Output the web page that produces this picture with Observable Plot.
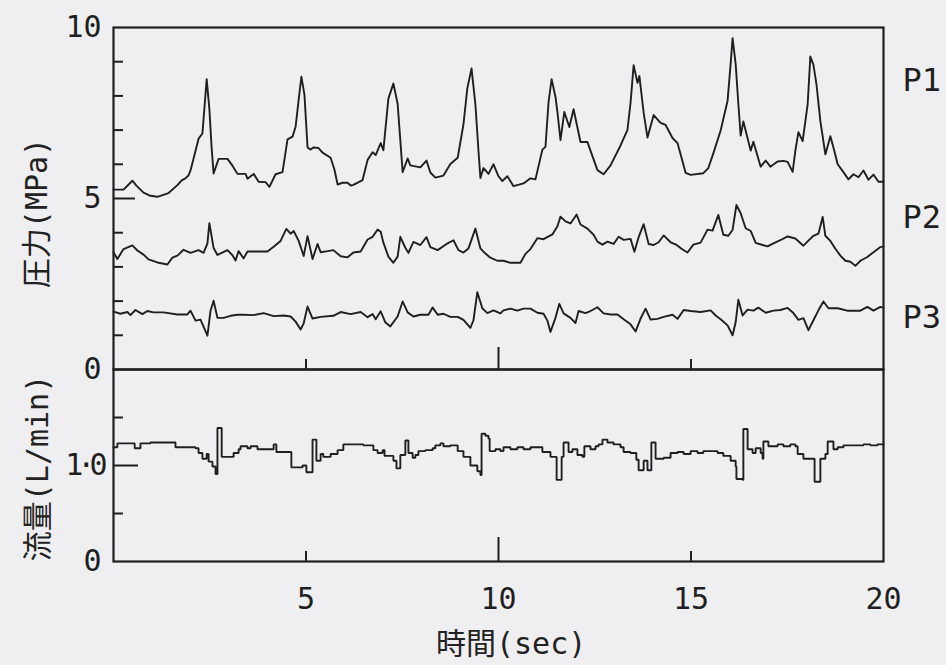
<!DOCTYPE html>
<html><head><meta charset="utf-8">
<script src="https://cdn.jsdelivr.net/npm/d3@7"></script>
<script src="https://cdn.jsdelivr.net/npm/@observablehq/plot@0.6"></script>
<style>
html,body{margin:0;padding:0;background:#efeff1;}
#chart{position:relative;width:946px;height:665px;overflow:hidden;color:#222;
  font-family:"DejaVu Sans Mono","Noto Sans CJK JP",monospace;}
#chart svg{position:absolute;left:0;overflow:visible;}
.ttl{position:absolute;font-size:30px;white-space:nowrap;line-height:1;transform-origin:center center;}
</style></head><body><div id="chart"></div>
<script>
// ---- data (time in sec, pressure in MPa, flow in L/min) ----
const p1Points = [[0,5.26],[0.26,5.26],[0.49,5.52],[0.60,5.37],[0.78,5.17],[0.96,5.08],[1.14,5.05],[1.43,5.16],[1.66,5.39],[1.77,5.53],[1.87,5.59],[1.95,5.68],[2.00,5.82],[2.08,6.17],[2.21,6.75],[2.31,6.90],[2.36,7.62],[2.42,8.49],[2.49,7.62],[2.55,6.46],[2.60,5.73],[2.73,6.16],[2.96,6.16],[3.09,5.96],[3.22,5.72],[3.43,5.72],[3.48,5.58],[3.64,5.72],[3.77,5.49],[3.95,5.48],[4.05,5.34],[4.21,5.71],[4.39,5.77],[4.52,6.73],[4.65,6.81],[4.73,7.10],[4.81,7.89],[4.88,8.56],[4.96,8.03],[5.04,6.49],[5.12,6.43],[5.19,6.49],[5.32,6.48],[5.43,6.34],[5.64,6.19],[5.74,5.84],[5.82,5.41],[5.95,5.46],[6.08,5.46],[6.16,5.38],[6.23,5.40],[6.47,5.54],[6.60,6.13],[6.73,6.35],[6.81,6.27],[6.94,6.62],[7.01,6.41],[7.14,7.92],[7.27,8.36],[7.38,7.77],[7.45,6.70],[7.51,5.77],[7.64,6.17],[7.71,5.97],[7.97,5.91],[8.13,6.11],[8.23,5.76],[8.36,5.61],[8.57,5.67],[8.75,6.01],[8.94,6.19],[9.09,7.17],[9.19,8.22],[9.30,8.80],[9.40,7.75],[9.48,6.39],[9.53,5.60],[9.61,5.89],[9.74,5.72],[9.87,6.00],[10.00,5.65],[10.10,5.51],[10.23,5.65],[10.39,5.36],[10.65,5.44],[10.83,5.59],[10.96,5.56],[11.14,6.43],[11.22,6.51],[11.30,7.82],[11.38,8.49],[11.48,7.97],[11.53,7.53],[11.61,6.71],[11.71,7.53],[11.84,7.09],[11.95,7.61],[12.13,6.65],[12.31,6.65],[12.57,5.83],[12.73,5.71],[12.91,5.97],[13.17,6.55],[13.35,7.01],[13.43,7.80],[13.51,8.90],[13.61,8.38],[13.66,8.58],[13.77,7.51],[13.87,6.78],[14.03,7.44],[14.21,7.21],[14.34,7.15],[14.52,6.77],[14.65,6.62],[14.86,5.75],[14.99,5.69],[15.32,5.74],[15.45,5.89],[15.58,6.32],[15.77,6.99],[15.95,7.86],[16.03,8.94],[16.08,9.69],[16.16,8.93],[16.23,7.77],[16.29,6.84],[16.36,7.25],[16.55,6.40],[16.62,6.66],[16.81,5.93],[16.94,6.11],[17.06,5.93],[17.25,6.08],[17.40,6.10],[17.51,6.07],[17.64,5.78],[17.71,6.39],[17.79,6.94],[17.90,6.68],[18.03,7.75],[18.10,9.15],[18.18,8.91],[18.26,8.33],[18.36,7.26],[18.49,6.29],[18.62,6.82],[18.70,6.49],[18.81,6.00],[18.94,5.80],[19.09,5.56],[19.22,5.71],[19.35,5.62],[19.48,5.82],[19.61,5.55],[19.74,5.70],[19.87,5.49],[20.00,5.49]];

const p2Points = [[0,3.43],[0.10,3.23],[0.26,3.52],[0.49,3.63],[0.62,3.48],[0.78,3.36],[0.91,3.22],[1.14,3.13],[1.40,3.07],[1.53,3.27],[1.66,3.33],[1.82,3.50],[2.00,3.41],[2.21,3.49],[2.34,3.41],[2.44,3.69],[2.49,4.28],[2.60,3.55],[2.70,3.35],[2.96,3.49],[3.09,3.34],[3.17,3.19],[3.25,3.46],[3.38,3.25],[3.48,3.45],[3.74,3.45],[4.00,3.45],[4.16,3.59],[4.34,3.76],[4.49,4.11],[4.60,3.97],[4.68,4.05],[4.81,3.76],[4.94,3.32],[5.04,3.90],[5.17,3.23],[5.30,3.67],[5.38,3.43],[5.56,3.46],[5.71,3.49],[5.90,3.31],[6.08,3.28],[6.23,3.42],[6.42,3.45],[6.60,3.80],[6.73,3.88],[6.86,4.09],[6.94,4.03],[7.01,3.71],[7.14,3.30],[7.27,3.12],[7.38,3.30],[7.45,3.88],[7.58,3.56],[7.66,3.41],[7.79,3.73],[7.97,3.64],[8.13,3.87],[8.23,3.58],[8.42,3.49],[8.68,3.69],[8.83,3.78],[8.96,3.49],[9.09,3.42],[9.22,3.54],[9.40,4.12],[9.53,3.54],[9.66,3.39],[9.79,3.27],[9.97,3.18],[10.13,3.18],[10.31,3.12],[10.57,3.12],[10.70,3.38],[10.83,3.52],[11.01,3.84],[11.17,3.81],[11.40,3.95],[11.53,4.19],[11.61,4.47],[11.74,4.33],[11.87,4.27],[12.03,4.53],[12.13,4.24],[12.31,4.12],[12.47,3.94],[12.57,3.74],[12.70,3.65],[12.83,3.74],[12.99,3.67],[13.12,3.88],[13.25,3.79],[13.43,3.82],[13.53,3.44],[13.64,3.87],[13.77,4.25],[13.90,3.67],[14.03,3.64],[14.16,3.72],[14.29,3.92],[14.47,3.72],[14.60,3.66],[14.78,3.51],[14.91,3.42],[15.06,3.65],[15.25,3.71],[15.43,4.09],[15.56,4.06],[15.71,4.52],[15.84,3.94],[15.97,3.91],[16.08,4.08],[16.18,4.81],[16.29,4.57],[16.42,4.13],[16.55,4.05],[16.68,3.70],[16.86,3.64],[16.99,3.60],[17.14,3.69],[17.32,3.78],[17.51,3.89],[17.71,3.83],[17.92,3.62],[18.05,3.77],[18.18,3.91],[18.31,3.97],[18.42,4.46],[18.49,3.91],[18.62,3.76],[18.75,3.53],[18.88,3.33],[19.01,3.18],[19.14,3.15],[19.27,3.03],[19.40,3.18],[19.58,3.29],[19.74,3.43],[19.92,3.58],[20.00,3.60]];

const p3Points = [[0,1.69],[0.18,1.63],[0.36,1.68],[0.44,1.59],[0.57,1.74],[0.75,1.62],[0.88,1.71],[1.04,1.67],[1.30,1.67],[1.66,1.61],[1.92,1.61],[2.00,1.72],[2.13,1.43],[2.26,1.46],[2.44,0.99],[2.52,1.72],[2.60,2.01],[2.70,1.51],[2.86,1.51],[3.04,1.57],[3.22,1.60],[3.38,1.60],[3.64,1.59],[3.90,1.65],[4.16,1.56],[4.42,1.58],[4.60,1.55],[4.73,1.40],[4.86,1.17],[4.94,1.35],[5.04,1.84],[5.17,1.49],[5.38,1.54],[5.71,1.57],[5.90,1.68],[6.16,1.62],[6.42,1.68],[6.60,1.53],[6.73,1.62],[6.81,1.47],[6.94,1.70],[7.06,1.38],[7.19,1.26],[7.38,1.55],[7.51,1.99],[7.64,1.67],[7.79,1.55],[7.97,1.60],[8.18,1.60],[8.29,1.81],[8.42,1.60],[8.57,1.63],[8.75,1.54],[8.94,1.54],[9.09,1.45],[9.27,1.22],[9.35,1.44],[9.45,2.26],[9.58,1.79],[9.71,1.65],[9.87,1.73],[10.05,1.64],[10.13,1.73],[10.31,1.78],[10.49,1.72],[10.65,1.78],[10.83,1.78],[11.01,1.66],[11.17,1.63],[11.27,1.43],[11.35,1.10],[11.48,1.51],[11.58,1.92],[11.69,1.64],[11.87,1.51],[12.00,1.36],[12.08,1.71],[12.26,1.65],[12.39,1.71],[12.57,1.82],[12.73,1.64],[12.91,1.61],[13.09,1.61],[13.25,1.47],[13.43,1.32],[13.56,1.11],[13.69,1.49],[13.82,1.78],[13.95,1.46],[14.13,1.48],[14.29,1.54],[14.52,1.60],[14.65,1.48],[14.81,1.74],[14.99,1.71],[15.25,1.68],[15.51,1.73],[15.64,1.58],[15.77,1.47],[15.95,1.29],[16.08,1.00],[16.16,1.38],[16.23,2.04],[16.34,1.58],[16.47,1.75],[16.62,1.72],[16.75,1.81],[16.94,1.66],[17.14,1.72],[17.32,1.74],[17.51,1.80],[17.66,1.65],[17.79,1.45],[17.92,1.50],[18.05,1.15],[18.18,1.44],[18.31,1.73],[18.44,1.99],[18.57,1.79],[18.81,1.79],[19.06,1.72],[19.22,1.72],[19.40,1.72],[19.58,1.83],[19.74,1.72],[19.92,1.83],[20.00,1.80]];

const flowPoints = [[0,1.19],[0.10,1.23],[0.52,1.23],[0.55,1.18],[0.68,1.18],[0.70,1.23],[0.96,1.24],[1.53,1.24],[1.61,1.19],[2.13,1.18],[2.21,1.13],[2.31,1.07],[2.39,1.07],[2.42,1.12],[2.47,1.04],[2.57,0.99],[2.65,0.91],[2.68,0.91],[2.70,1.39],[2.78,1.39],[2.81,1.09],[2.96,1.09],[3.12,1.13],[3.25,1.17],[3.30,1.20],[3.48,1.18],[3.56,1.20],[3.74,1.17],[3.90,1.17],[4.08,1.17],[4.16,1.22],[4.23,1.14],[4.60,1.14],[4.62,0.98],[4.78,0.98],[4.91,1.00],[5.01,0.93],[5.14,0.93],[5.17,1.27],[5.25,1.27],[5.27,1.05],[5.38,1.12],[5.45,1.09],[5.64,1.12],[5.82,1.16],[5.97,1.22],[6.23,1.22],[6.49,1.21],[6.75,1.16],[6.86,1.13],[6.99,1.16],[7.04,1.10],[7.19,1.10],[7.27,1.05],[7.35,0.97],[7.43,0.97],[7.45,1.11],[7.56,1.11],[7.58,1.26],[7.64,1.26],[7.66,1.13],[7.77,1.08],[7.84,1.11],[7.92,1.15],[8.10,1.16],[8.29,1.18],[8.36,1.21],[8.49,1.23],[8.57,1.20],[8.75,1.21],[8.94,1.15],[9.09,1.09],[9.27,1.00],[9.45,0.94],[9.53,0.90],[9.56,1.33],[9.66,1.31],[9.74,1.28],[9.77,1.15],[9.92,1.17],[10.05,1.15],[10.13,1.19],[10.31,1.17],[10.49,1.19],[10.65,1.17],[10.83,1.19],[11.09,1.19],[11.14,1.14],[11.30,1.14],[11.35,1.09],[11.48,1.09],[11.51,0.85],[11.61,0.85],[11.64,1.09],[11.69,1.24],[11.79,1.24],[11.82,1.14],[11.92,1.17],[12.05,1.11],[12.18,1.09],[12.23,1.20],[12.39,1.17],[12.52,1.20],[12.60,1.22],[12.70,1.27],[12.83,1.24],[12.99,1.22],[13.17,1.19],[13.25,1.14],[13.43,1.13],[13.58,1.06],[13.64,0.95],[13.74,0.95],[13.77,1.05],[13.84,1.05],[13.87,0.95],[13.95,0.95],[13.97,1.24],[14.05,1.24],[14.08,1.07],[14.29,1.08],[14.47,1.13],[14.65,1.14],[14.81,1.12],[14.99,1.15],[15.17,1.13],[15.32,1.15],[15.51,1.15],[15.69,1.13],[15.84,1.10],[16.03,1.05],[16.16,0.99],[16.18,0.86],[16.34,0.85],[16.36,1.38],[16.44,1.38],[16.47,1.17],[16.60,1.13],[16.68,1.18],[16.81,1.13],[16.86,1.07],[16.88,1.25],[16.99,1.25],[17.01,1.20],[17.25,1.22],[17.40,1.20],[17.58,1.22],[17.71,1.20],[17.77,1.12],[17.90,1.12],[17.92,1.07],[18.16,1.07],[18.21,0.83],[18.34,0.83],[18.36,1.07],[18.49,1.12],[18.55,1.25],[18.68,1.25],[18.70,1.17],[18.81,1.19],[18.96,1.21],[19.14,1.21],[19.32,1.21],[19.48,1.22],[19.66,1.21],[19.84,1.22],[20.00,1.22]];

const seriesNames = ["P1", "P2", "P3"];
const seriesLabelY = [8.45, 4.45, 1.5];          // MPa level where each name sits
const pressureTicks = [0, 5, 10];
const pressureTickLabels = ["0", "5", "10"];
const pressureMinorTicks = [1, 2, 3, 4, 6, 7, 8, 9];
const flowTicks = [0, 1];
const flowTickLabels = ["0", "1·0"];
const flowMinorTicks = [0.5, 1.5];
const timeTicks = [5, 10, 15, 20];
const timeTickLabels = ["5", "10", "15", "20"];
const yTitlePressure = "圧力(MPa)";
const yTitleFlow = "流量(L/min)";
const xTitle = "時間(sec)";

// ---- drawing ----
const ink = "#1f1f1f";
const FONT = '"DejaVu Sans Mono","Noto Sans CJK JP",monospace';
const toRows = pts => pts.map(([t, v]) => ({t, v}));
const lab = (vals, labels) => { const m = new Map(vals.map((v, i) => [v, labels[i]])); return d => m.get(d) ?? ""; };
const blank = () => "";
const lineStyle = {x: "t", y: "v", stroke: ink, strokeWidth: 1.9, strokeLinejoin: "round"};

const common = {
  width: 946, marginLeft: 113, marginRight: 63,
  x: {domain: [0, 20], axis: null},
  style: {background: "transparent", fontFamily: FONT, color: ink, overflow: "visible"}
};

const pressure = Plot.plot({
  ...common,
  height: 380, marginTop: 27, marginBottom: 11,
  y: {domain: [0, 10], axis: null},
  marks: [
    Plot.frame({stroke: ink, strokeWidth: 2.2}),
    Plot.axisY(pressureMinorTicks, {tickSize: -10, tickFormat: blank, strokeWidth: 2, label: null}),
    Plot.axisY([5], {tickSize: -22, tickFormat: blank, strokeWidth: 2, label: null}),
    Plot.axisY(pressureTicks, {tickSize: 0, tickPadding: 12, tickFormat: lab(pressureTicks, pressureTickLabels), fontSize: 30, label: null}),
    Plot.axisX([5, 15], {anchor: "bottom", tickSize: -10, tickFormat: blank, strokeWidth: 2, label: null}),
    Plot.axisX([10], {anchor: "bottom", tickSize: -22, tickFormat: blank, strokeWidth: 2, label: null}),
    Plot.line(toRows(p1Points), lineStyle),
    Plot.line(toRows(p2Points), lineStyle),
    Plot.line(toRows(p3Points), lineStyle),
    Plot.text(seriesNames, {frameAnchor: "right", y: (d, i) => seriesLabelY[i], text: d => d, dx: 19, textAnchor: "start", fontSize: 32, fill: ink})
  ]
});

const flow = Plot.plot({
  ...common,
  height: 305, marginTop: 9, marginBottom: 104,
  y: {domain: [0, 2], axis: null},
  marks: [
    Plot.frame({stroke: ink, strokeWidth: 2.2}),
    Plot.axisY(flowMinorTicks, {tickSize: -10, tickFormat: blank, strokeWidth: 2, label: null}),
    Plot.axisY([1], {tickSize: -25, tickFormat: blank, strokeWidth: 2, label: null}),
    Plot.axisY(flowTicks, {tickSize: 0, tickPadding: 12, tickFormat: lab(flowTicks, flowTickLabels), fontSize: 30, label: null}),
    Plot.axisX([5, 15], {anchor: "bottom", tickSize: -10, tickFormat: blank, strokeWidth: 2, label: null}),
    Plot.axisX([10], {anchor: "bottom", tickSize: -24, tickFormat: blank, strokeWidth: 2, label: null}),
    Plot.axisX(timeTicks, {anchor: "bottom", tickSize: 0, tickPadding: 26, tickFormat: lab(timeTicks, timeTickLabels), fontSize: 30, label: null}),
    Plot.line(toRows(flowPoints), {...lineStyle, curve: "step-after", strokeLinejoin: "miter"})
  ]
});

const chart = document.getElementById("chart");
pressure.style.top = "0px";
flow.style.top = "360px";
chart.append(pressure, flow);

d3.select(flow).selectAll("text").filter(function() { return this.textContent === "1·0"; }).attr("letter-spacing", -6);

function title(text, cx, cy, rotate) {
  const d = document.createElement("div");
  d.className = "ttl";
  d.textContent = text;
  chart.append(d);
  const w = d.offsetWidth, h = d.offsetHeight;
  d.style.left = (cx - w / 2) + "px";
  d.style.top = (cy - h / 2) + "px";
  if (rotate) d.style.transform = "rotate(-90deg)";
}
title(yTitlePressure, 37, 213, true);
title(yTitleFlow, 38, 468, true);
title(xTitle, 511, 644, false);
</script></body></html>
